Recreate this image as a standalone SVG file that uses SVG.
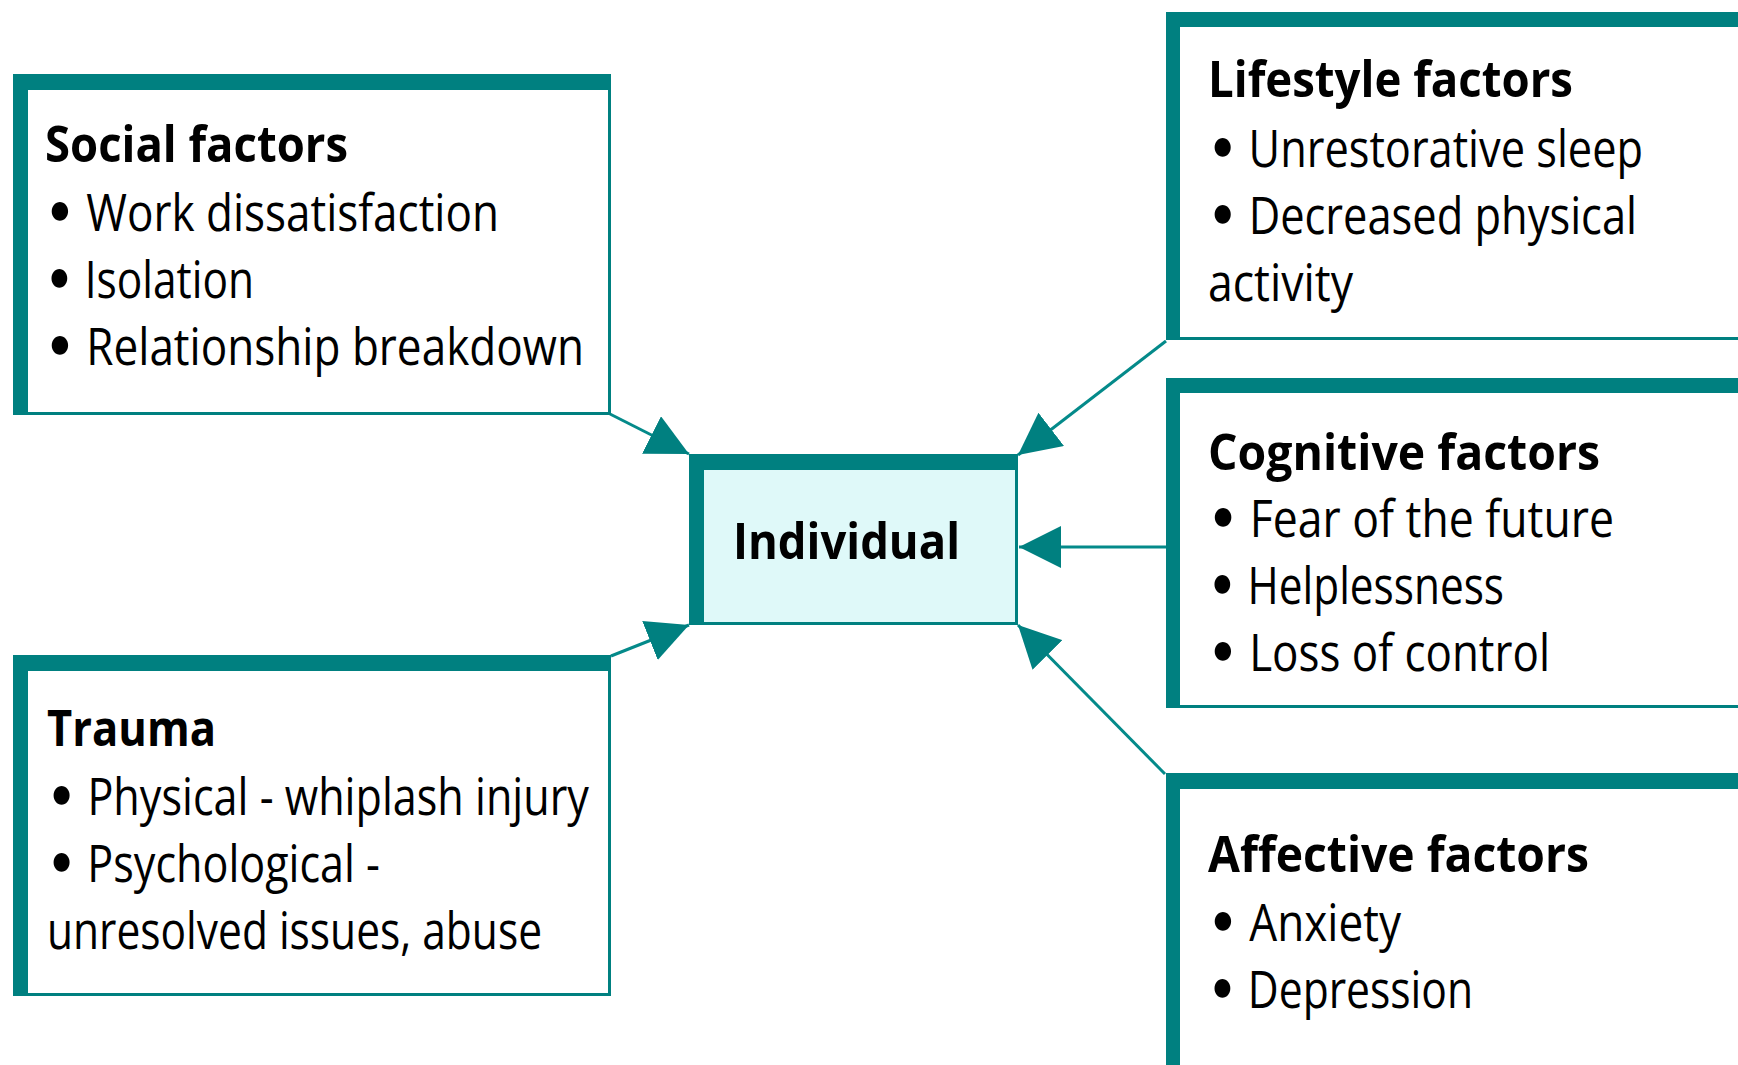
<svg xmlns="http://www.w3.org/2000/svg" width="1738" height="1065" viewBox="0 0 1738 1065">
  <style>
    .frame { fill: #008080; }
    .body { fill: #ffffff; }
    .core { fill: #dff9f9; }
    .t { font-family: "Open Sans", "Noto Sans", "Liberation Sans", sans-serif; font-size: 51px; fill: #000000; }
    .h { font-weight: bold; }
    .b { font-family: "DejaVu Sans", sans-serif; font-weight: bold; font-size: 54px; }
    .link { stroke: #048a8a; stroke-width: 3; fill: none; marker-end: url(#head); }
  </style>
  <defs>
    <marker id="head" markerUnits="userSpaceOnUse" markerWidth="42" markerHeight="42" refX="42" refY="21" orient="auto" viewBox="0 0 42 42">
      <path d="M0,0 L42,21 L0,42 z" fill="#008080"/>
    </marker>
  </defs>

  <!-- connectors -->
  <g id="connectors">
    <line class="link" x1="610" y1="414" x2="689" y2="454"/>
    <line class="link" x1="1166" y1="341" x2="1018" y2="455"/>
    <line class="link" x1="1166" y1="547" x2="1019" y2="547"/>
    <line class="link" x1="611" y1="656" x2="689" y2="625"/>
    <line class="link" x1="1165" y1="774" x2="1018" y2="625"/>
  </g>

  <!-- Social factors -->
  <g id="social">
    <rect class="frame" x="13" y="74" width="598" height="341"/>
    <rect class="body" x="28" y="90" width="580" height="322"/>
    <text class="t h" x="45" y="162" textLength="303" lengthAdjust="spacingAndGlyphs">Social factors</text>
    <text class="t" x="45" y="231" textLength="454" lengthAdjust="spacingAndGlyphs"><tspan class="b">•</tspan> Work dissatisfaction</text>
    <text class="t" x="45" y="298" textLength="209" lengthAdjust="spacingAndGlyphs"><tspan class="b">•</tspan> Isolation</text>
    <text class="t" x="45" y="365" textLength="539" lengthAdjust="spacingAndGlyphs"><tspan class="b">•</tspan> Relationship breakdown</text>
  </g>

  <!-- Trauma -->
  <g id="trauma">
    <rect class="frame" x="13" y="655" width="598" height="341"/>
    <rect class="body" x="28" y="671" width="580" height="322"/>
    <text class="t h" x="47" y="746" textLength="169" lengthAdjust="spacingAndGlyphs">Trauma</text>
    <text class="t" x="47" y="815" textLength="542" lengthAdjust="spacingAndGlyphs"><tspan class="b">•</tspan> Physical - whiplash injury</text>
    <text class="t" x="47" y="882" textLength="333" lengthAdjust="spacingAndGlyphs"><tspan class="b">•</tspan> Psychological -</text>
    <text class="t" x="47" y="949" textLength="495" lengthAdjust="spacingAndGlyphs">unresolved issues, abuse</text>
  </g>

  <!-- Individual -->
  <g id="individual">
    <rect class="frame" x="689" y="454" width="329" height="171"/>
    <rect class="core" x="704" y="470" width="311" height="152"/>
    <text class="t h" x="733" y="559" textLength="227" lengthAdjust="spacingAndGlyphs">Individual</text>
  </g>

  <!-- Lifestyle factors -->
  <g id="lifestyle">
    <rect class="frame" x="1166" y="12" width="600" height="328"/>
    <rect class="body" x="1180" y="27" width="600" height="310"/>
    <text class="t h" x="1208" y="97" textLength="365" lengthAdjust="spacingAndGlyphs">Lifestyle factors</text>
    <text class="t" x="1208" y="167" textLength="435" lengthAdjust="spacingAndGlyphs"><tspan class="b">•</tspan> Unrestorative sleep</text>
    <text class="t" x="1208" y="234" textLength="429" lengthAdjust="spacingAndGlyphs"><tspan class="b">•</tspan> Decreased physical</text>
    <text class="t" x="1208" y="301" textLength="145" lengthAdjust="spacingAndGlyphs">activity</text>
  </g>

  <!-- Cognitive factors -->
  <g id="cognitive">
    <rect class="frame" x="1166" y="378" width="600" height="330"/>
    <rect class="body" x="1180" y="393" width="600" height="312"/>
    <text class="t h" x="1208" y="470" textLength="392" lengthAdjust="spacingAndGlyphs">Cognitive factors</text>
    <text class="t" x="1208" y="537" textLength="406" lengthAdjust="spacingAndGlyphs"><tspan class="b">•</tspan> Fear of the future</text>
    <text class="t" x="1208" y="604" textLength="296" lengthAdjust="spacingAndGlyphs"><tspan class="b">•</tspan> Helplessness</text>
    <text class="t" x="1208" y="671" textLength="342" lengthAdjust="spacingAndGlyphs"><tspan class="b">•</tspan> Loss of control</text>
  </g>

  <!-- Affective factors -->
  <g id="affective">
    <rect class="frame" x="1166" y="773" width="600" height="320"/>
    <rect class="body" x="1180" y="789" width="600" height="300"/>
    <text class="t h" x="1208" y="872" textLength="381" lengthAdjust="spacingAndGlyphs">Affective factors</text>
    <text class="t" x="1208" y="941" textLength="193" lengthAdjust="spacingAndGlyphs"><tspan class="b">•</tspan> Anxiety</text>
    <text class="t" x="1208" y="1008" textLength="265" lengthAdjust="spacingAndGlyphs"><tspan class="b">•</tspan> Depression</text>
  </g>
</svg>
